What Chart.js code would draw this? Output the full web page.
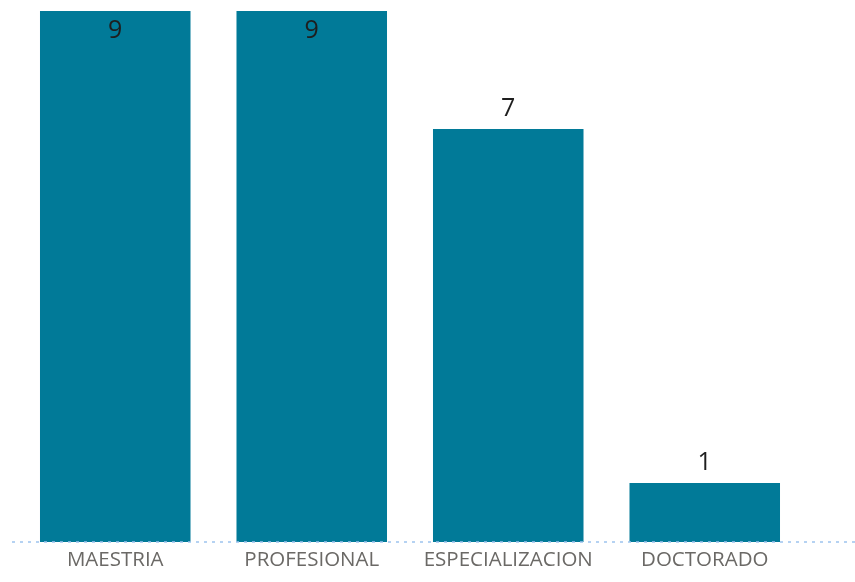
<!DOCTYPE html>
<html>
<head>
<meta charset="utf-8">
<script src="https://cdn.jsdelivr.net/npm/chart.js@4/dist/chart.umd.min.js"></script>
<style>
  html, body { margin: 0; padding: 0; background: #ffffff; }
  #wrap { width: 855px; height: 582px; position: relative; }
</style>
</head>
<body>
<div id="wrap"><canvas id="c"></canvas></div>
<script>
const categories = ["MAESTRIA", "PROFESIONAL", "ESPECIALIZACION", "DOCTORADO"];
const counts = [9, 9, 7, 1];
const yMax = 9;

const valueLabels = {
  id: 'valueLabels',
  afterDatasetsDraw(chart) {
    const ctx = chart.ctx;
    const meta = chart.getDatasetMeta(0);
    ctx.save();
    ctx.font = '25px "Open Sans", sans-serif';
    ctx.fillStyle = '#1e1e1e';
    ctx.textAlign = 'center';
    ctx.textBaseline = 'middle';
    meta.data.forEach((bar, i) => {
      const v = chart.data.datasets[0].data[i];
      let y = bar.y - 20;
      if (y - 12 < chart.chartArea.top) y = bar.y + 19.5;
      ctx.fillText(String(v), bar.x, y);
    });
    ctx.restore();
  }
};

const baseline = {
  id: 'baseline',
  afterDatasetsDraw(chart) {
    const ctx = chart.ctx;
    const y = chart.scales.y.getPixelForValue(0);
    ctx.save();
    ctx.strokeStyle = '#9dc3ee';
    ctx.lineWidth = 1.5;
    ctx.setLineDash([3, 5]);
    ctx.beginPath();
    ctx.moveTo(chart.chartArea.left - 5, y);
    ctx.lineTo(chart.width, y);
    ctx.stroke();
    ctx.restore();
  }
};

new Chart(document.getElementById('c'), {
  type: 'bar',
  data: {
    labels: categories,
    datasets: [{
      data: counts,
      backgroundColor: '#017a98',
      borderWidth: 0,
      categoryPercentage: 1.0,
      barPercentage: 0.766
    }]
  },
  options: {
    responsive: true,
    maintainAspectRatio: false,
    animation: false,
    layout: { padding: { top: 11, left: 17, right: 52, bottom: 3.5 } },
    plugins: { legend: { display: false }, tooltip: { enabled: false } },
    scales: {
      x: {
        grid: { display: false, drawTicks: false },
        border: { display: false },
        ticks: {
          color: '#6b6966',
          font: { family: '"Open Sans", sans-serif', size: 20.5 },
          padding: 6,
          maxRotation: 0,
          autoSkip: false
        }
      },
      y: {
        display: false,
        min: 0,
        max: yMax
      }
    }
  },
  plugins: [valueLabels, baseline]
});
</script>
</body>
</html>
